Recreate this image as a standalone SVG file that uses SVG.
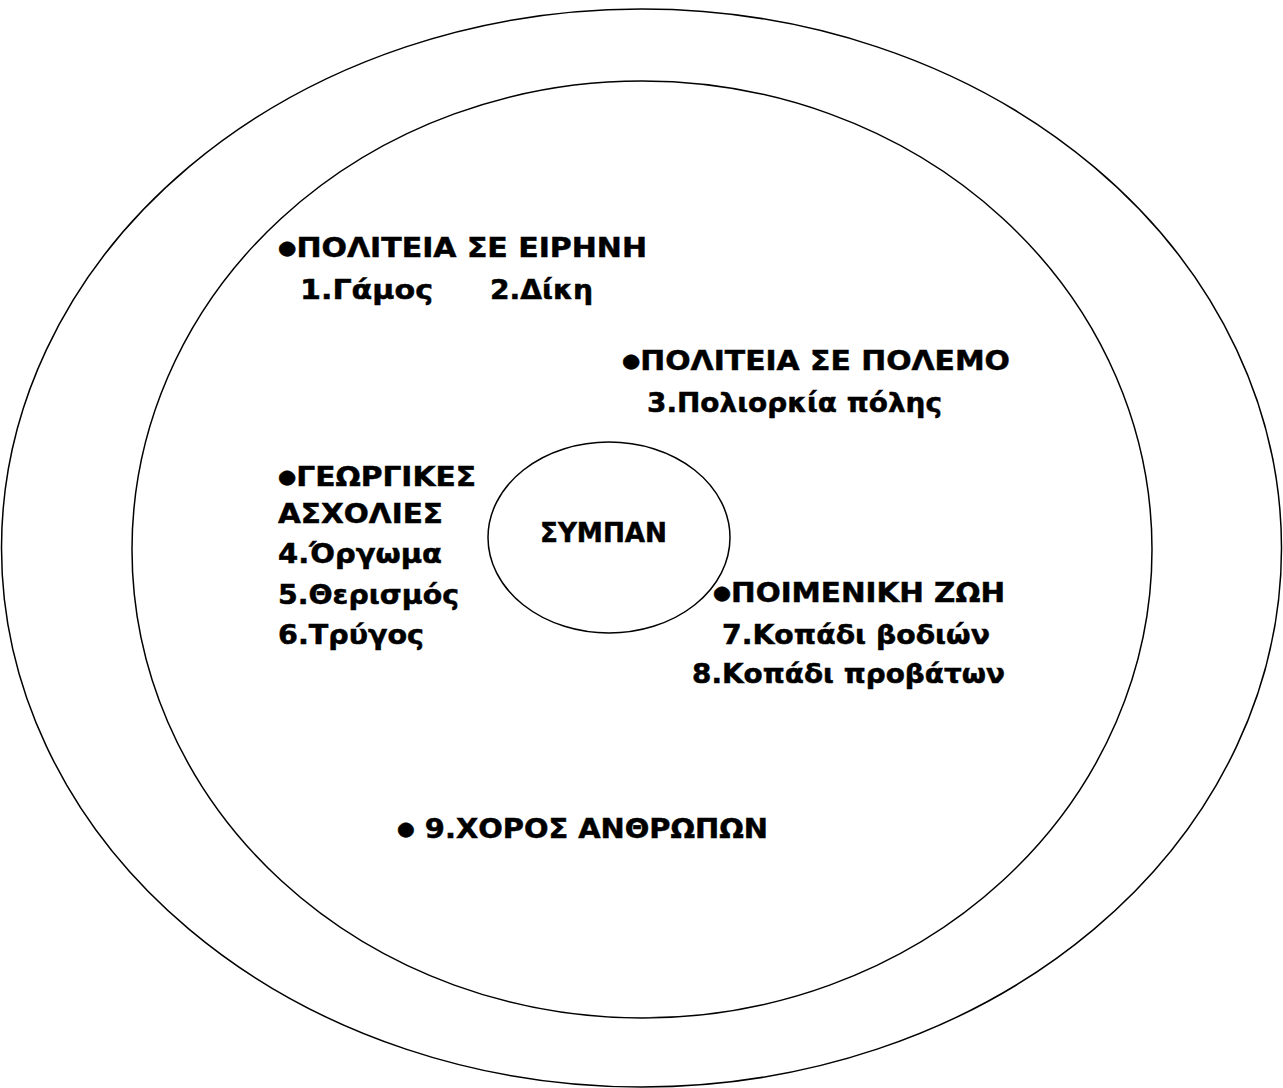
<svg xmlns="http://www.w3.org/2000/svg" width="1283" height="1088" viewBox="0 0 1283 1088">
<style>
.e{fill:none;stroke:#000;stroke-width:1.5}
.t{font-family:"DejaVu Sans","Liberation Sans",sans-serif;font-weight:bold;font-size:27px;fill:#000;stroke:#000;stroke-width:0.5}
.b{font-size:19px}
</style>
<rect width="1283" height="1088" fill="#fff"/>
<g id="outer"><ellipse class="e" cx="641.5" cy="548" rx="640" ry="539"/></g>
<g id="inner"><ellipse class="e" cx="642" cy="549.5" rx="510" ry="468.5"/></g>
<g id="sympan">
<ellipse class="e" cx="609" cy="537.5" rx="121" ry="95.5"/>
<text class="t" x="540" y="542" textLength="127" lengthAdjust="spacingAndGlyphs">ΣΥΜΠΑΝ</text>
</g>
<g id="peace">
<text class="t" x="278" y="257" textLength="369" lengthAdjust="spacingAndGlyphs"><tspan class="b" dy="-3">●</tspan><tspan dy="3">ΠΟΛΙΤΕΙΑ ΣΕ ΕΙΡΗΝΗ</tspan></text>
<text class="t" x="300" y="299" textLength="133" lengthAdjust="spacingAndGlyphs">1.Γάμος</text>
<text class="t" x="490" y="299" textLength="103" lengthAdjust="spacingAndGlyphs">2.Δίκη</text>
</g>
<g id="war">
<text class="t" x="622" y="370" textLength="388" lengthAdjust="spacingAndGlyphs"><tspan class="b" dy="-3">●</tspan><tspan dy="3">ΠΟΛΙΤΕΙΑ ΣΕ ΠΟΛΕΜΟ</tspan></text>
<text class="t" x="647" y="412" textLength="295" lengthAdjust="spacingAndGlyphs">3.Πολιορκία πόλης</text>
</g>
<g id="farming">
<text class="t" x="278" y="486" textLength="198" lengthAdjust="spacingAndGlyphs"><tspan class="b" dy="-3">●</tspan><tspan dy="3">ΓΕΩΡΓΙΚΕΣ</tspan></text>
<text class="t" x="278" y="523" textLength="165" lengthAdjust="spacingAndGlyphs">ΑΣΧΟΛΙΕΣ</text>
<text class="t" x="278" y="563" textLength="164" lengthAdjust="spacingAndGlyphs">4.Όργωμα</text>
<text class="t" x="278" y="604" textLength="181" lengthAdjust="spacingAndGlyphs">5.Θερισμός</text>
<text class="t" x="278" y="644" textLength="146" lengthAdjust="spacingAndGlyphs">6.Τρύγος</text>
</g>
<g id="pastoral">
<text class="t" x="713" y="602" textLength="292" lengthAdjust="spacingAndGlyphs"><tspan class="b" dy="-3">●</tspan><tspan dy="3">ΠΟΙΜΕΝΙΚΗ ΖΩΗ</tspan></text>
<text class="t" x="722" y="644" textLength="268" lengthAdjust="spacingAndGlyphs">7.Κοπάδι βοδιών</text>
<text class="t" x="692" y="683" textLength="313" lengthAdjust="spacingAndGlyphs">8.Κοπάδι προβάτων</text>
</g>
<g id="dance">
<text class="t" x="397" y="838" textLength="371" lengthAdjust="spacingAndGlyphs"><tspan class="b" dy="-3">●</tspan><tspan dy="3"> 9.ΧΟΡΟΣ ΑΝΘΡΩΠΩΝ</tspan></text>
</g>
<g id="connectors"/>
</svg>
